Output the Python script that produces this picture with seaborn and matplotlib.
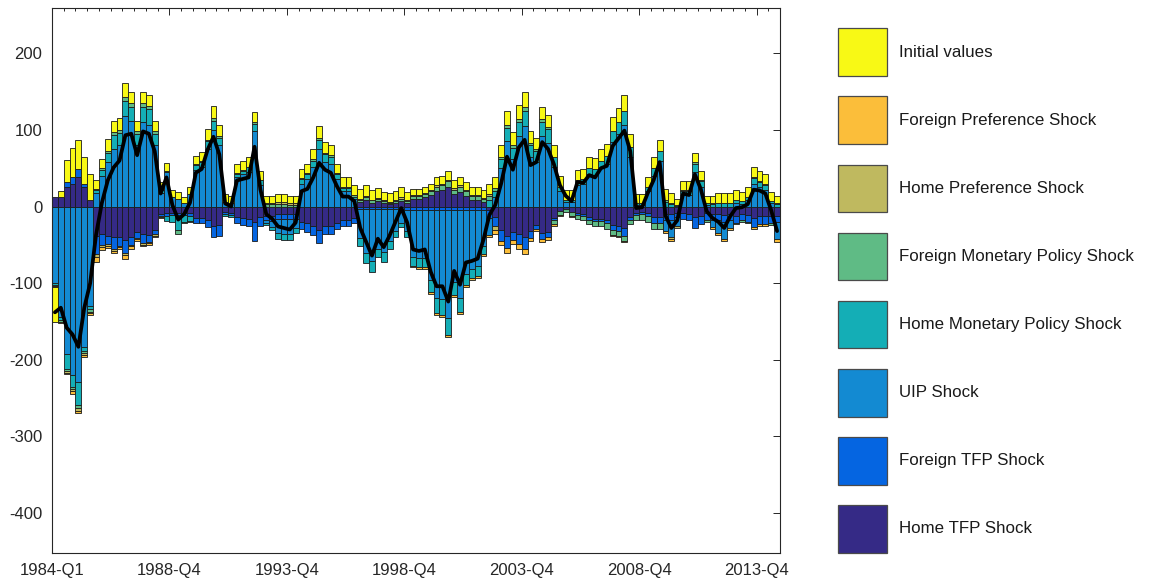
import numpy as np
import matplotlib
matplotlib.use("Agg")
import matplotlib.pyplot as plt
from matplotlib.patches import Rectangle
from matplotlib.ticker import MultipleLocator, FixedLocator
import seaborn as sns

# ---------------- data (quarterly, 1984-Q1 .. 2014-Q4) ----------------
tick_positions = [0, 20, 40, 60, 80, 100, 120]
tick_labels = ["1984-Q1", "1988-Q4", "1993-Q4", "1998-Q4", "2003-Q4", "2008-Q4", "2013-Q4"]

legend_names = ["Initial values", "Foreign Preference Shock", "Home Preference Shock",
                "Foreign Monetary Policy Shock", "Home Monetary Policy Shock",
                "UIP Shock", "Foreign TFP Shock", "Home TFP Shock"]
legend_colors = ["#F8F915", "#FBBE3A", "#BFB95F", "#5FBB85", "#14AEB6",
                 "#138AD2", "#0565E1", "#352A86"]

home_tfp = [12, 12, 25, 30, 38, 26, 8, -38, -36, -38,
            -40, -40, -44, -40, -33, -36, -37, -30, -10, -8,
            -8, -8, -8, -9, -15, -15, -18, -25, -24, -7,
            -8, -14, -15, -16, -20, -14, -12, -12, -10, -10,
            -10, -10, -20, -22, -25, -30, -26, -26, -21, -18,
            -18, -15, 6, 8, 5, 7, 4, 3, 5, 7,
            5, 10, 10, 12, 15, 20, 22, 26, 16, 19,
            14, 9, 9, 6, -5, -14, -30, -38, -33, -36,
            -40, -32, -24, -34, -33, -15, -6, -3, -7, -9,
            -10, -14, -16, -16, -18, -24, -25, -28, -14, -8,
            -7, -9, -14, -14, -10, -10, -8, -9, -10, -14,
            -12, -9, -10, -10, -11, -10, -12, -10, -11, -15,
            -13, -13, -12, -12]

foreign_tfp = [0, 0, 7, 8, 11, 3, 0, -24, -14, -11,
               -15, -11, -16, -10, -8, -12, -9, -6, -3, -4,
               -3, -3, -3, -4, -7, -7, -9, -15, -14, -3,
               -3, -8, -9, -10, -25, -11, -6, -7, -6, -6,
               -6, -6, -9, -11, -12, -18, -10, -10, -8, -7,
               -7, -6, -3, -3, -3, -3, -3, -3, -3, -3,
               -4, -4, -4, -4, -4, -4, -4, -5, -4, -4,
               -4, -4, -4, -4, -10, -12, -15, -16, -11, -13,
               -16, -9, -5, -8, -7, -3, 0, 0, 0, -2,
               -2, -3, -3, -3, -4, -6, -7, -10, -3, -3,
               -3, -4, -8, -8, -8, -8, -6, -7, -8, -14,
               -11, -8, -8, -8, -9, -8, -9, -8, -9, -12,
               -10, -10, -10, -8]

uip = [-100, -144, -192, -220, -229, -183, -130, 18, 40, 58,
       75, 80, 118, 112, 80, 110, 107, 80, 18, 45,
       12, 10, 4, 16, 48, 52, 75, 100, 80, 6,
       4, 38, 42, 45, 98, 28, -4, -8, -18, -20,
       -20, -12, 30, 36, 52, 75, 58, 55, 36, 20,
       20, 10, -38, -58, -68, -52, -56, -42, -29, -18,
       -28, -62, -63, -63, -92, -115, -117, -140, -95, -115,
       -84, -77, -74, -48, -22, 12, 50, 85, 62, 92,
       105, 65, 58, 92, 83, 52, 20, 6, 6, 28,
       29, 42, 41, 50, 55, 84, 94, 107, 65, 2,
       2, 20, 40, 60, -14, -22, -12, 15, 15, 45,
       25, 2, -9, -16, -22, -10, 5, 3, 8, 30,
       26, 22, 4, -22]

home_mp = [-3, -4, -20, -15, -30, -5, -4, 4, 8, 12,
           18, 16, 20, 18, 15, 20, 20, 15, 4, -7,
           -9, -20, -9, -6, 6, 6, 10, 12, 10, -2,
           -3, 5, 5, 6, 10, 6, -2, -3, -8, -8,
           -8, -7, 6, 6, 8, 12, 10, 10, 6, 4,
           4, 3, -10, -13, -14, -11, -13, -10, -8, -6,
           -8, -11, -12, -12, -15, -20, -20, -22, -16, -18,
           -14, -12, -12, -10, 8, 8, 12, 18, 15, 18,
           20, 15, 14, 18, 18, 12, 6, 3, 3, 7,
           7, 8, 8, 10, 11, 15, 16, 18, 13, 2,
           2, 6, 10, 12, 6, 3, 1, 5, 5, 10,
           8, 2, 3, 4, 4, 4, 4, 4, 5, 7,
           6, 6, 3, 3]

foreign_mp = [-1, -2, -3, -3, -4, -3, -3, 1, 2, 3,
              4, 4, 5, 5, 4, 5, 4, 4, 2, 2,
              1, -5, -2, -1, 1, 1, 2, 3, 2, 0,
              0, 1, 1, 1, 2, 1, 3, 3, 3, 3,
              2, 2, 1, 2, 2, 3, 2, 2, 2, 2,
              2, 2, 3, 4, 3, 3, 3, 2, 2, 3,
              2, 4, 4, 4, 5, 6, 6, 7, 6, 7,
              6, 5, 5, 4, 6, 4, 3, 4, 3, 4,
              5, 3, 3, 4, 3, -5, -5, -4, -6, -5,
              -6, -6, -6, -6, -7, -7, -7, -7, -6, -7,
              -7, -7, -7, -7, 3, 2, 1, 2, 2, 3,
              2, -3, 1, 1, 1, 1, -2, -2, -2, 1,
              1, 1, -2, 1]

home_pref = [-1, -1, -2, -3, -4, -3, -2, -4, -3, -2,
             -3, -2, -3, -2, -2, -2, -2, -2, -1, 0,
             0, 0, 0, 0, 0, 0, 0, 0, 0, 0,
             0, 0, 0, 0, 0, 0, 2, 2, 3, 3,
             2, 2, 0, 0, 0, 0, 0, 0, 0, 0,
             0, 0, 1, 2, 1, 1, 1, 1, 1, 2,
             1, 1, 1, 1, 1, 2, 2, 2, 2, 2,
             2, 1, 1, 1, 2, -5, 0, 0, 0, 0,
             0, 0, 0, 0, 0, 0, 0, 0, 0, 0,
             0, 0, 0, 0, 0, 0, 0, 0, 0, 0,
             0, 0, 0, 0, 0, -2, -2, 0, 0, 0,
             0, 0, 0, 0, 0, 0, 0, 0, 0, 0,
             0, 0, 0, 0]

foreign_pref = [0, -1, -2, -3, -3, -2, -3, -6, -4, -3,
                -3, -3, -5, -3, -2, -2, -2, -2, -1, 0,
                0, 0, 0, 0, 0, 0, 0, 0, 0, 0,
                0, 0, 0, 0, 0, 0, 0, 0, 0, 0,
                0, 0, 0, 0, 0, 0, 0, 0, 0, 0,
                0, 0, 0, 0, 0, 0, 0, 0, 0, 0,
                0, -2, -2, -2, -3, -3, -3, -3, -3, -3,
                -3, -3, -3, -2, -3, -5, -5, -6, -5, -6,
                -6, -4, -3, -4, -4, -2, -1, 0, -1, 0,
                0, 0, 0, 0, 0, -1, -1, -1, 0, 0,
                0, 0, 0, 0, -3, -3, 0, 0, 0, 0,
                0, 0, -2, -3, -3, -2, 0, 0, 0, -2,
                -2, -2, 0, -4]

initial_values = [-45, 8, 29, 39, 38, 35, 34, 12, 12, 15,
                  15, 16, 18, 15, 13, 15, 14, 13, 8, 10,
                  9, 9, 8, 9, 11, 12, 14, 16, 14, 10,
                  10, 12, 12, 12, 13, 12, 9, 9, 10, 10,
                  10, 10, 12, 12, 13, 15, 14, 13, 12, 12,
                  12, 13, 13, 14, 12, 13, 11, 11, 12, 13,
                  11, 8, 8, 8, 8, 10, 10, 11, 10, 10,
                  10, 10, 10, 10, 13, 14, 15, 18, 17, 18,
                  19, 16, 15, 16, 15, 16, 14, 12, 12, 13,
                  13, 14, 14, 15, 16, 18, 19, 20, 17, 12,
                  12, 12, 14, 15, 14, 12, 8, 11, 11, 12,
                  11, 10, 10, 12, 12, 12, 12, 12, 12, 13,
                  13, 13, 12, 10]

# stacking order, from the zero line outward
stack = [("Home TFP Shock", home_tfp), ("Foreign TFP Shock", foreign_tfp),
         ("UIP Shock", uip), ("Home Monetary Policy Shock", home_mp),
         ("Foreign Monetary Policy Shock", foreign_mp), ("Home Preference Shock", home_pref),
         ("Foreign Preference Shock", foreign_pref), ("Initial values", initial_values)]

n = len(home_tfp)
for name, s in stack:
    assert len(s) == n, (name, len(s))

color_of = dict(zip(legend_names, legend_colors))

# ---------------- figure ----------------
sns.set_theme(style="white")
plt.rcParams["font.family"] = ["Liberation Sans", "DejaVu Sans"]
plt.rcParams["axes.unicode_minus"] = False

W, H = 1152, 582
fig = plt.figure(figsize=(W / 100, H / 100), dpi=100)
fig.patch.set_facecolor("white")
ax = fig.add_axes([52 / W, 1 - 553 / H, (780 - 52) / W, (553 - 8) / H])
ax.set_facecolor("white")

x = np.arange(n) + 0.5
vals = np.array([s for _, s in stack], dtype=float)
pos = np.clip(vals, 0, None)
neg = np.clip(vals, None, 0)
pos_bottom = np.vstack([np.zeros(n), np.cumsum(pos, axis=0)[:-1]])
neg_bottom = np.vstack([np.zeros(n), np.cumsum(neg, axis=0)[:-1]])

for k, (name, _) in enumerate(stack):
    for part, bot in ((pos[k], pos_bottom[k]), (neg[k], neg_bottom[k])):
        m = part != 0
        ax.bar(x[m], part[m], bottom=bot[m], width=1.0, color=color_of[name],
               edgecolor="#1a1a1a", linewidth=0.6, zorder=2)

total = vals.sum(axis=0)
sns.lineplot(x=x, y=total, color="black", linewidth=2.7, ax=ax, zorder=3)

ax.set_xlim(0, n)
ax.set_ylim(-452, 259)
ax.xaxis.set_major_locator(FixedLocator(tick_positions))
ax.set_xticklabels(tick_labels)
ax.xaxis.set_minor_locator(MultipleLocator(2))
ax.set_yticks([-400, -300, -200, -100, 0, 100, 200])
ax.tick_params(axis="both", which="both", direction="in", top=True, right=True,
               labelsize=12, colors="#262626", width=0.7)
ax.tick_params(axis="both", which="major", length=5, pad=7)
ax.tick_params(axis="x", which="minor", length=2.5)
for sp in ax.spines.values():
    sp.set_color("#262626")
    sp.set_linewidth(0.8)
ax.grid(False)
ax.set_xlabel("")
ax.set_ylabel("")

# ---------------- legend panel ----------------
lax = fig.add_axes([0, 0, 1, 1], zorder=-1)
lax.set_xlim(0, W)
lax.set_ylim(H, 0)
lax.axis("off")
for k, (name, col) in enumerate(zip(legend_names, legend_colors)):
    top = 28.3 + 68.1 * k
    lax.add_patch(Rectangle((838.3, top), 49, 47.7, facecolor=col,
                            edgecolor="#4a4a4a", linewidth=0.9))
    lax.text(899, top + 23.8, name, ha="left", va="center", fontsize=12.2, color="#1a1a1a")

fig.savefig("out.png", dpi=100, facecolor="white")
